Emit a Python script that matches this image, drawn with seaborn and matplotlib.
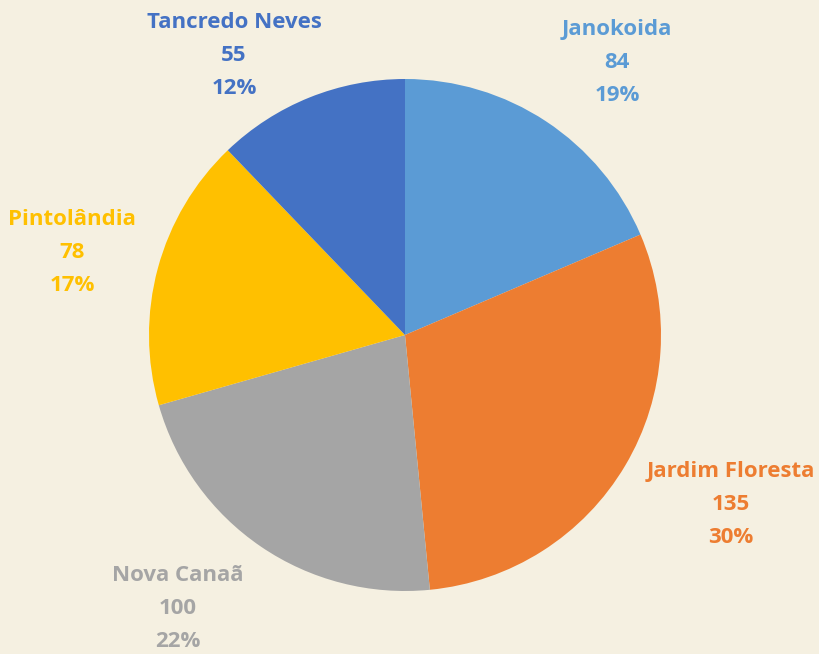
import matplotlib
matplotlib.use("Agg")
import matplotlib.pyplot as plt
import seaborn as sns

categories = ["Janokoida", "Jardim Floresta", "Nova Canaã", "Pintolândia", "Tancredo Neves"]
values = [84, 135, 100, 78, 55]
colors = ["#5B9BD5", "#ED7D31", "#A5A5A5", "#FFC000", "#4472C4"]

sns.set_theme(style="white")
plt.rcParams['font.family'] = ['Open Sans', 'DejaVu Sans']

bg = "#F5F0E1"
fig = plt.figure(figsize=(8.19, 6.54), dpi=100, facecolor=bg)
ax = fig.add_axes([0, 0, 1, 1])
ax.set_facecolor(bg)

ax.pie(values, colors=colors, startangle=90, counterclock=False,
       radius=1.0, center=(0, 0), wedgeprops=dict(linewidth=0))

# label positions (data units, pie radius = 1)
label_pos = [(0.828, 1.066), (1.273, -0.664), (-0.887, -1.07), (-1.301, 0.324), (-0.668, 1.09)]
total = sum(values)
for cat, v, c, (x, y) in zip(categories, values, colors, label_pos):
    pct = round(100 * v / total)
    ax.text(x, y, f"{cat}\n{v}\n{pct}%", color=c, ha="center", va="center",
            fontsize=16, fontweight="bold", linespacing=1.75)

ax.set_xlim(-405 / 256, (819 - 405) / 256)
ax.set_ylim(-319 / 256, 335 / 256)
ax.set_aspect("equal")
ax.axis("off")
fig.savefig("out.png", dpi=100, facecolor=bg)
